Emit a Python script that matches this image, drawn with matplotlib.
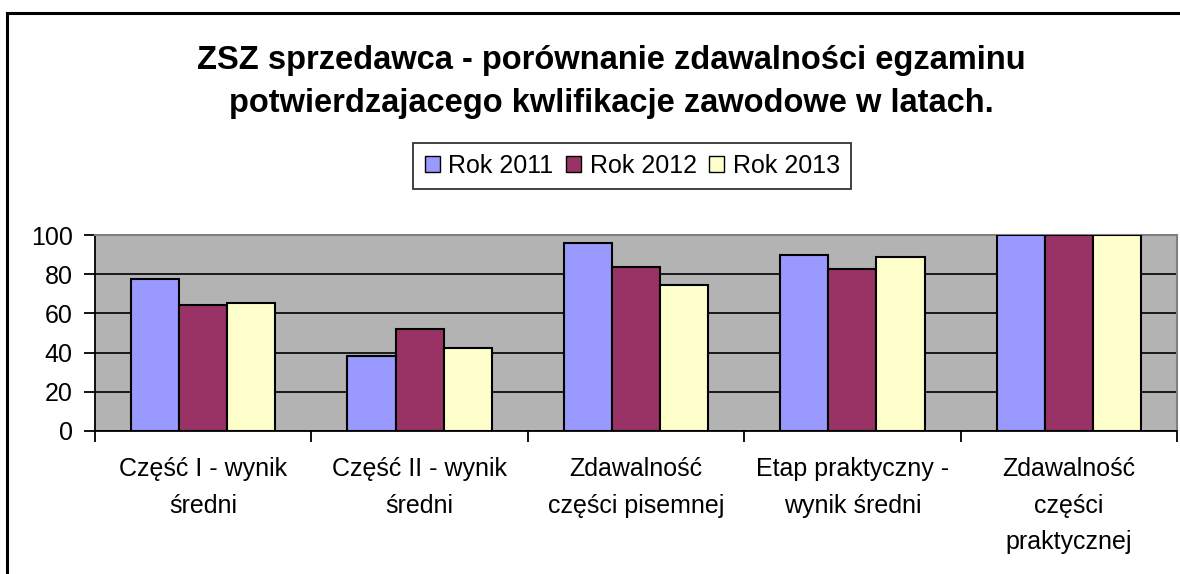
import matplotlib
matplotlib.use("Agg")
import matplotlib.pyplot as plt
import numpy as np
from matplotlib.patches import Patch
from matplotlib.lines import Line2D

# Data
categories = ["Część I - wynik\nśredni", "Część II - wynik\nśredni",
              "Zdawalność\nczęści pisemnej", "Etap praktyczny -\nwynik średni",
              "Zdawalność\nczęści\npraktycznej"]
series_names = ["Rok 2011", "Rok 2012", "Rok 2013"]
rok_2011 = [77.6, 38.4, 95.9, 89.8, 100]
rok_2012 = [64.3, 52.0, 83.7, 82.7, 100]
rok_2013 = [65.3, 42.5, 74.5, 88.8, 100]
colors = ["#9999FF", "#993366", "#FFFFCC"]

plt.rcParams['font.family'] = ['Liberation Sans', 'DejaVu Sans']

fig = plt.figure(figsize=(11.8, 5.74), dpi=100)
ax = fig.add_axes([95 / 1180, 1 - 431 / 574, 1082 / 1180, 196 / 574])
ax.set_facecolor("#B3B3B3")

x = np.arange(len(categories))
w = 1 / 4.5
for i, (vals, name, c) in enumerate(zip([rok_2011, rok_2012, rok_2013], series_names, colors)):
    ax.bar(x + (i - 1) * w, vals, width=w, color=c, edgecolor="black",
           linewidth=1.5, label=name, zorder=3)

ax.set_xlim(-0.5, len(categories) - 0.5)
ax.set_ylim(0, 100)
ax.set_yticks(range(0, 101, 20))
ax.yaxis.grid(True, color="black", linewidth=1.2, zorder=1)
ax.set_axisbelow(True)

# category ticks sit between groups, labels under the groups
ax.set_xticks(np.arange(len(categories) + 1) - 0.5)
ax.set_xticklabels([])
ax.set_xticks(x, minor=True)
ax.set_xticklabels(categories, minor=True, fontsize=18, linespacing=1.65,
                   va="top")
ax.tick_params(axis="x", which="minor", length=0, pad=19)
ax.tick_params(axis="x", which="major", length=8, width=1.3, direction="out")
ax.tick_params(axis="y", length=8, width=1.3, labelsize=18, pad=8)

for s in ["top", "right"]:
    ax.spines[s].set_color("#808080")
    ax.spines[s].set_linewidth(1.5)
ax.spines["left"].set_linewidth(1.3)
ax.spines["bottom"].set_linewidth(1.3)

fig.text(0.518, 0.857, "ZSZ sprzedawca - porównanie zdawalności egzaminu\n"
         "potwierdzajacego kwlifikacje zawodowe w latach.",
         ha="center", va="center", fontsize=23.5, fontweight="bold",
         linespacing=1.5)

handles = [Patch(facecolor=c, edgecolor="black", linewidth=1) for c in colors]
leg = fig.legend(handles, series_names, loc="center", bbox_to_anchor=(0.536, 0.711),
                 ncol=3, fontsize=18, frameon=True, fancybox=False,
                 handlelength=0.6, handleheight=0.6, handletextpad=0.35,
                 columnspacing=0.5, borderpad=0.45, borderaxespad=0)
leg.get_frame().set_edgecolor("black")
leg.get_frame().set_linewidth(1.3)

# chart-area border (left and top visible)
fig.add_artist(Line2D([7 / 1180, 7 / 1180], [0, 1 - 13 / 574], color="black",
                      linewidth=2.2, transform=fig.transFigure))
fig.add_artist(Line2D([7 / 1180, 1], [1 - 13 / 574, 1 - 13 / 574], color="black",
                      linewidth=2.2, transform=fig.transFigure))

fig.savefig("out.png", dpi=100, facecolor="white")
